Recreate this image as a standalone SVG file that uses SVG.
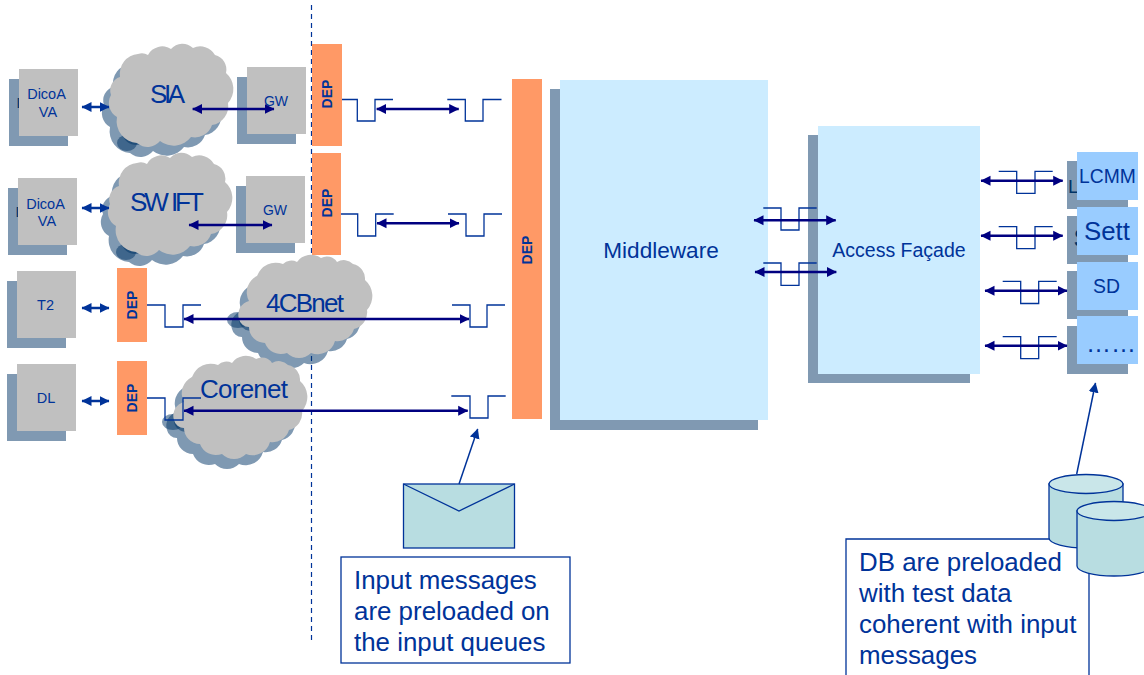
<svg xmlns="http://www.w3.org/2000/svg" width="1144" height="675" viewBox="0 0 1144 675">
<style>
text{font-family:"Liberation Sans",Arial,sans-serif;fill:#003399}
.m{text-anchor:middle}
.s{font-size:14.5px}
.c{font-size:26px}
.n{font-size:25.9px}
.d{font-size:14px;font-weight:bold;text-anchor:middle}
.sh{fill:#8099B2}
.gy{fill:#C0C0C0}
.or{fill:#FF9966}
.lb{fill:#CCECFF}
.sb{fill:#99CCFF}
.ct{fill:#003366;fill-opacity:.5}
.hid{fill:#003366}
.p{fill:none;stroke:#003399;stroke-width:1.3}
.a{fill:none;stroke:#000080;stroke-width:2.5;marker-start:url(#nv);marker-end:url(#nv)}
.b{fill:none;stroke:#003399;stroke-width:2.5;marker-start:url(#bl);marker-end:url(#bl)}
.u{fill:none;stroke:#003399;stroke-width:1.5;marker-end:url(#bl)}
.o{fill:#B8DDE1;stroke:#003399;stroke-width:1.3}
.t{fill:#C9E6E9;stroke:#003399;stroke-width:1.3}
.box{fill:#fff;stroke:#003399;stroke-width:1.3}
</style>
<defs>
<marker id="nv" markerUnits="userSpaceOnUse" markerWidth="11" markerHeight="12" refX="9.500" refY="6" orient="auto-start-reverse"><path d="M0 1L10 6L0 11z" fill="#000080"/></marker>
<marker id="bl" markerUnits="userSpaceOnUse" markerWidth="11" markerHeight="12" refX="9.500" refY="6" orient="auto-start-reverse"><path d="M0 1L10 6L0 11z" fill="#003399"/></marker>
<path id="cloudA" d="M11 32A20 20 0 0 1 29 9A12 12 0 0 1 39 10A16 16 0 0 1 62 4A15 15 0 0 1 84 3A17 17 0 0 1 106 10A15 15 0 0 1 117 28A21 21 0 0 1 119 58A19 19 0 0 1 103 80A18 18 0 0 1 82 92A22 22 0 0 1 51 96A16 16 0 0 1 28 98A22 22 0 0 1 8 72A16 16 0 0 1 2 50A14 14 0 0 1 11 32z"/>
<path id="cloudB" d="M12 46A18 18 0 0 1 20 21A20 20 0 0 1 46 9A12 12 0 0 1 60 7A17 17 0 0 1 84 3A12 12 0 0 1 100 7A13 13 0 0 1 116 9A15 15 0 0 1 128 25A21 21 0 0 1 130 55A17 17 0 0 1 117 74A17 17 0 0 1 98 86A18 18 0 0 1 74 98A17 17 0 0 1 50 98A17 17 0 0 1 28 88A16 16 0 0 1 12 72A10 10 0 0 1 2 64A14 14 0 0 1 12 46z"/>
</defs>
<line id="divider" x1="311.5" y1="5" x2="311.5" y2="640" stroke="#003399" stroke-width="1.2" stroke-dasharray="5 4"/>

<g id="dicoa1"><rect class="sh" x="9" y="79" width="59" height="67"/><text class="s hid" x="16.5" y="108">D</text><rect class="gy" x="19" y="69" width="59" height="67"/><text class="s m" x="46.500" y="99">DicoA</text><text class="s m" x="48" y="117">VA</text></g>
<g id="cloud-sia"><ellipse class="ct" cx="127" cy="143" rx="10" ry="8"/><ellipse class="ct" cx="137" cy="134" rx="14" ry="11"/><use href="#cloudA" class="ct" x="102" y="55"/><use href="#cloudA" class="gy" x="109" y="45"/><text class="c" x="150" y="103" textLength="35" lengthAdjust="spacing">SIA</text></g>
<g id="gw1"><rect class="sh" x="237" y="77" width="59" height="67"/><rect class="gy" x="247" y="67" width="59" height="67"/><text class="s m" x="276" y="106" style="font-size:14px">GW</text></g>
<g id="dep1"><rect class="or" x="312" y="44" width="30" height="102"/><text class="d" transform="translate(331.500 94) rotate(-90)">DEP</text></g>

<g id="dicoa2"><rect class="sh" x="8" y="188" width="59" height="67"/><text class="s hid" x="15.5" y="217">D</text><rect class="gy" x="18" y="178" width="59" height="67"/><text class="s m" x="45.500" y="209">DicoA</text><text class="s m" x="47" y="226">VA</text></g>
<g id="cloud-swift"><ellipse class="ct" cx="126" cy="252" rx="10" ry="8"/><ellipse class="ct" cx="136" cy="243" rx="14" ry="11"/><use href="#cloudA" class="ct" x="101" y="164"/><use href="#cloudA" class="gy" x="108" y="154"/><text class="c" x="130" y="211" letter-spacing="-3">SW<tspan dx="5">IFT</tspan></text></g>
<g id="gw2"><rect class="sh" x="236" y="186" width="59" height="67"/><rect class="gy" x="246" y="176" width="59" height="67"/><text class="s m" x="275" y="215" style="font-size:14px">GW</text></g>
<g id="dep2"><rect class="or" x="312" y="153" width="29" height="102"/><text class="d" transform="translate(331.500 203) rotate(-90)">DEP</text></g>

<g id="t2"><rect class="sh" x="7" y="281" width="59" height="67"/><rect class="gy" x="17" y="271" width="59" height="67"/><text class="s m" x="45.5" y="310">T2</text></g>
<g id="dep3"><rect class="or" x="117" y="268" width="30" height="74"/><text class="d" transform="translate(136.500 305) rotate(-90)">DEP</text></g>
<g id="cloud-4cb"><ellipse class="ct" cx="238" cy="320" rx="11" ry="8"/><ellipse class="ct" cx="252" cy="320" rx="13" ry="11"/><use href="#cloudB" class="ct" x="230" y="265"/><use href="#cloudB" class="gy" x="237" y="255"/><text class="c" x="266" y="312" textLength="78" lengthAdjust="spacing">4CBnet</text></g>

<g id="dl"><rect class="sh" x="7" y="374" width="59" height="67"/><rect class="gy" x="17" y="364" width="59" height="67"/><text class="s m" x="46" y="403">DL</text></g>
<g id="dep4"><rect class="or" x="117" y="361" width="30" height="74"/><text class="d" transform="translate(136.500 398) rotate(-90)">DEP</text></g>
<g id="cloud-corenet"><ellipse class="ct" cx="173" cy="422" rx="11" ry="8"/><ellipse class="ct" cx="187" cy="421" rx="13" ry="11"/><use href="#cloudB" class="ct" x="165" y="366"/><use href="#cloudB" class="gy" x="172" y="356"/><text class="c" x="200" y="398" textLength="88" lengthAdjust="spacing">Corenet</text></g>

<g id="dep-main"><rect class="or" x="512" y="79" width="30" height="340"/><text class="d" transform="translate(531.500 250) rotate(-90)">DEP</text></g>
<g id="middleware"><rect class="sh" x="550" y="89" width="208" height="341"/><rect class="lb" x="560" y="80" width="208" height="340"/><text class="m" x="661" y="258" style="font-size:22.6px">Middleware</text></g>
<g id="access"><rect class="sh" x="808" y="135" width="162" height="248"/><rect class="lb" x="818" y="126" width="162" height="248"/><text class="m" x="899" y="257" style="font-size:19.5px">Access Façade</text></g>

<g id="lcmm"><rect class="sh" x="1067" y="161" width="61" height="48"/><text class="hid" x="1068" y="193" style="font-size:19px">L</text><rect class="sb" x="1077" y="152" width="61" height="48"/><text class="m" x="1107.5" y="183" style="font-size:19.3px">LCMM</text></g>
<g id="sett"><rect class="sh" x="1067" y="216" width="61" height="48"/><text class="hid" x="1073.500" y="247" style="font-size:25px">S</text><rect class="sb" x="1077" y="207" width="61" height="48"/><text class="m" x="1107" y="240" style="font-size:25.8px">Sett</text></g>
<g id="sd"><rect class="sh" x="1067" y="271" width="61" height="48"/><rect class="sb" x="1077" y="262" width="61" height="48"/><text class="m" x="1106.5" y="293" style="font-size:19.4px">SD</text></g>
<g id="more"><rect class="sh" x="1067" y="326" width="61" height="48"/><rect class="sb" x="1077" y="316" width="61" height="48"/><text x="1086" y="352" style="font-size:25px">……</text></g>

<g id="envelope"><rect class="o" x="403.500" y="484" width="111" height="64"/><path d="M403.500 484L459 511L514.500 484" fill="none" stroke="#003399" stroke-width="1.3"/></g>
<g id="note-input"><rect class="box" x="341" y="557" width="229" height="106"/><text class="n" x="354" y="589">Input messages</text><text class="n" x="354" y="620">are preloaded on</text><text class="n" x="354" y="651">the input queues</text></g>
<g id="note-db"><path class="box" d="M846 690V539H1089V690"/><text class="n" x="859" y="571">DB are preloaded</text><text class="n" x="859" y="602">with test data</text><text class="n" x="859" y="633">coherent with input</text><text class="n" x="859" y="664">messages</text></g>
<g id="db1"><path class="o" d="M1049 484V538A37 10 0 0 0 1123 538V484z"/><ellipse class="t" cx="1086" cy="484" rx="37" ry="9.500"/></g>
<g id="db2"><path class="o" d="M1077 511V566A37 10 0 0 0 1151 566V511z"/><ellipse class="t" cx="1114" cy="511" rx="37" ry="9.500"/></g>

<g id="connectors">
<path class="p" d="M342 99.500H357.300V121H375V99.500H393"/>
<path class="p" d="M447.300 99.500H465.300V121H483V99.500H501.500"/>
<path class="p" d="M341 214H357.700V236H375.700V214H393.700"/>
<path class="p" d="M448 214H466V236H484V214H502"/>
<path class="p" d="M147 305H165V327H183V305H201"/>
<path class="p" d="M452 305H470V327H487V305H505"/>
<path class="p" d="M147 398H165V420H183V398H201"/>
<path class="p" d="M451.300 396H470V418H488V396H505.700"/>
<path class="p" d="M763.300 208H781V230H799V208H816.700"/>
<path class="p" d="M763.300 263H781V285.300H799V263H816.700"/>
<path class="p" d="M998.700 171.300H1016.700V193.300H1035V171.300H1052.700"/>
<path class="p" d="M998.700 226.700H1016.700V248.700H1035V226.700H1052.700"/>
<path class="p" d="M1002.700 281.300H1020.700V303.500H1038.700V281.300H1056.700"/>
<path class="p" d="M1002.700 336.700H1020.700V358.700H1038.700V336.700H1056.700"/>
<line class="b" x1="82" y1="107" x2="109" y2="107"/>
<line class="b" x1="82" y1="208" x2="109" y2="208"/>
<line class="b" x1="82" y1="308" x2="109" y2="308"/>
<line class="b" x1="82" y1="401" x2="109" y2="401"/>
<line class="a" x1="192.700" y1="109" x2="274" y2="109"/>
<line class="a" x1="189" y1="225" x2="272" y2="225"/>
<line class="a" x1="376.700" y1="109" x2="458.700" y2="109"/>
<line class="a" x1="377" y1="223.300" x2="459" y2="223.300"/>
<line class="a" x1="184" y1="319" x2="469" y2="319"/>
<line class="a" x1="184" y1="410.700" x2="467.700" y2="410.700"/>
<line class="a" x1="754" y1="220.300" x2="835.700" y2="220.300"/>
<line class="a" x1="755" y1="272" x2="836.300" y2="272"/>
<line class="a" x1="981" y1="180.700" x2="1062.700" y2="180.700"/>
<line class="a" x1="981" y1="235.700" x2="1062.700" y2="235.700"/>
<line class="a" x1="985" y1="290.700" x2="1067" y2="290.700"/>
<line class="a" x1="985" y1="345.700" x2="1067" y2="345.700"/>
<line class="u" x1="459" y1="484" x2="477.700" y2="429"/>
<line class="u" x1="1076.700" y1="474" x2="1095.500" y2="383"/>
</g>
</svg>
